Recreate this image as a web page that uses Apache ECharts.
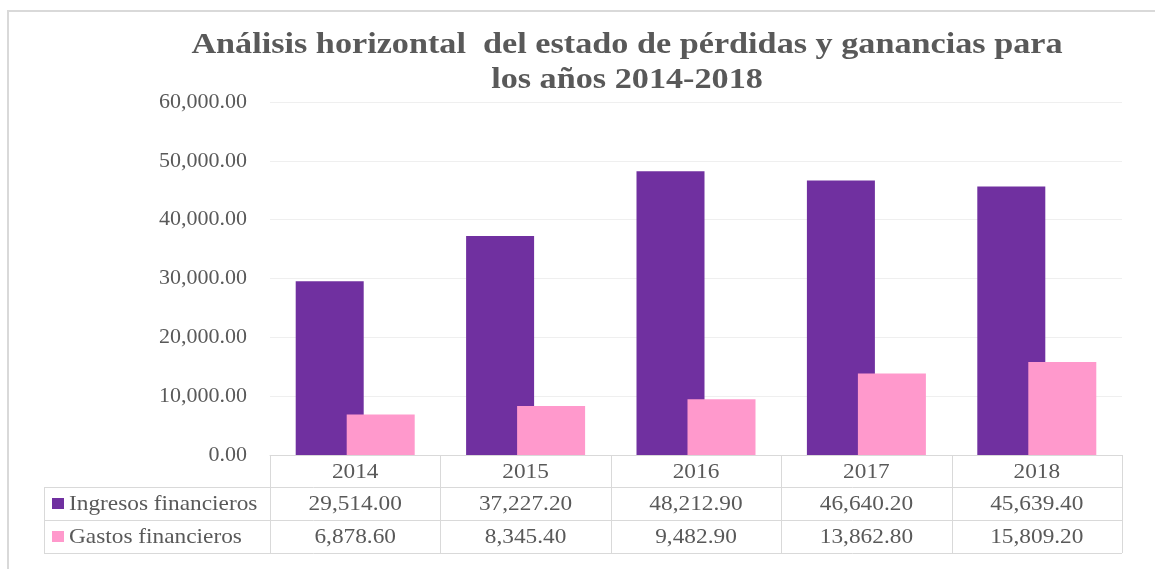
<!DOCTYPE html>
<html>
<head>
<meta charset="UTF-8">
<title>Análisis horizontal</title>
<script src="https://cdn.jsdelivr.net/npm/echarts@6/dist/echarts.min.js"></script>
<style>body{margin:0;background:#fff;}</style>
</head>
<body>
<div id="main" style="width:1155px;height:569px;"></div>
<script>
// datos
var years = ['2014', '2015', '2016', '2017', '2018'];
var ingresos = [29514.00, 37227.20, 48212.90, 46640.20, 45639.40];
var gastos = [6878.60, 8345.40, 9482.90, 13862.80, 15809.20];
var seriesNames = ['Ingresos financieros', 'Gastos financieros'];
var seriesColors = ['#7030a0', '#ff99cc'];
var titleLines = ['Análisis horizontal  del estado de pérdidas y ganancias para', 'los años 2014-2018'];

var FONT = '"Liberation Serif", "Times New Roman", serif';
var TXT = '#595959';
var LINE = '#d9d9d9';

// posicion del grafico
var gLeft = 270, gRight = 33, gTop = 102, gBottom = 114;
var W = 1155, H = 569;
var plotRight = W - gRight;
var baseY = H - gBottom;
var rows = [baseY, 487, 520, 553];
var tableLeft = 44;

function fmt(v) {
  return v.toLocaleString('en-US', {minimumFractionDigits: 2, maximumFractionDigits: 2});
}

var chart = echarts.init(document.getElementById('main'));

var els = [];
els.push({type: 'rect', z: -10, shape: {x: 8, y: 11, width: 1300, height: 700},
  style: {fill: 'none', stroke: LINE, lineWidth: 2}});
titleLines.forEach(function (t, i) {
  els.push({type: 'text', x: 627, y: 45 + i * 35, scaleX: 1.14,
    style: {text: t, fill: TXT, font: 'bold 30px ' + FONT, align: 'center', verticalAlign: 'middle'}});
});

function hline(x1, x2, y) {
  els.push({type: 'line', shape: {x1: x1, y1: y + 0.5, x2: x2, y2: y + 0.5}, style: {stroke: LINE, lineWidth: 1}});
}
function vline(x, y1, y2) {
  els.push({type: 'line', shape: {x1: x + 0.5, y1: y1, x2: x + 0.5, y2: y2}, style: {stroke: LINE, lineWidth: 1}});
}
function cell(text, x, y, align) {
  els.push({type: 'text', x: x, y: y, scaleX: 1.06,
    style: {text: text, fill: TXT, font: '22px ' + FONT, align: align, verticalAlign: 'middle'}});
}

// tabla de datos debajo del eje
hline(gLeft, plotRight, rows[0]);
for (var r = 1; r < rows.length; r++) hline(tableLeft, plotRight, rows[r]);
vline(tableLeft, rows[1], rows[3]);
var colW = (plotRight - gLeft) / years.length;
for (var c = 0; c <= years.length; c++) vline(Math.round(gLeft + c * colW), rows[0], rows[3]);

var tableData = [ingresos, gastos];
years.forEach(function (y, i) {
  var cx = gLeft + (i + 0.5) * colW;
  cell(y, cx, (rows[0] + rows[1]) / 2 + 1, 'center');
  tableData.forEach(function (arr, s) {
    cell(fmt(arr[i]), cx, (rows[s + 1] + rows[s + 2]) / 2 + 1, 'center');
  });
});
seriesNames.forEach(function (name, s) {
  var cy = (rows[s + 1] + rows[s + 2]) / 2;
  els.push({type: 'rect', shape: {x: 52, y: cy - 5.5, width: 12, height: 11}, style: {fill: seriesColors[s]}});
  cell(name, 69, cy + 1, 'left');
});

var option = {
  animation: false,
  backgroundColor: '#fff',
  grid: {left: gLeft, right: gRight, top: gTop, bottom: gBottom},
  xAxis: {
    type: 'category',
    data: years,
    axisLine: {show: true, lineStyle: {color: LINE, width: 1}},
    axisTick: {show: false},
    axisLabel: {show: false}
  },
  yAxis: {
    type: 'value',
    min: 0,
    max: 60000,
    interval: 10000,
    axisLine: {show: false},
    axisTick: {show: false},
    splitLine: {lineStyle: {color: '#efefef', width: 1}},
    axisLabel: {
      formatter: fmt,
      fontSize: 22,
      color: TXT,
      fontFamily: FONT,
      margin: 23
    }
  },
  series: [{
    name: seriesNames[0],
    type: 'bar',
    data: ingresos,
    barWidth: 68,
    barGap: '-25%',
    itemStyle: {color: seriesColors[0]}
  }, {
    name: seriesNames[1],
    type: 'bar',
    data: gastos,
    barWidth: 68,
    itemStyle: {color: seriesColors[1]}
  }],
  graphic: {elements: els}
};
chart.setOption(option);
</script>
</body>
</html>
